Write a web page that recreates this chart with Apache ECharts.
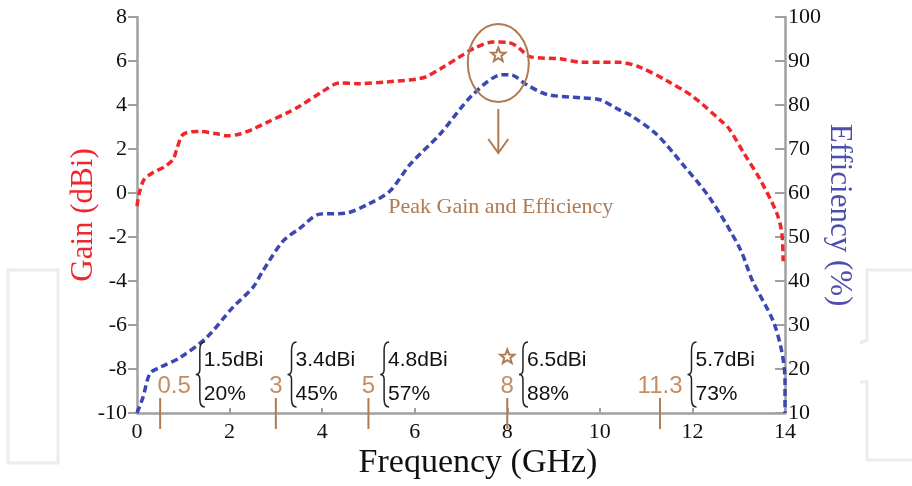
<!DOCTYPE html>
<html>
<head>
<meta charset="utf-8">
<style>html,body{margin:0;padding:0;background:#fff;}#c{width:912px;height:486px;}</style>
<script src="https://cdn.jsdelivr.net/npm/echarts@6/dist/echarts.min.js"></script>
</head>
<body>
<div id="c"></div>
<script>
// ---- data ----
const gainFreq = [0, 0.05, 0.15, 0.35, 0.6, 0.78, 0.86, 1.0, 1.36, 1.7, 1.94, 2.2, 2.5, 2.8, 3.3, 3.52, 4.0, 4.38, 4.8, 5.4, 6.05, 6.26, 6.6, 6.98, 7.3, 7.69, 8.0, 8.2, 8.49, 9.14, 9.63, 10.0, 10.43, 10.86, 11.45, 12.0, 12.66, 12.8, 13.1, 13.46, 13.82, 13.93, 13.96];
const gainVal  = [-0.6, 0.0, 0.6, 0.94, 1.2, 1.53, 2.0, 2.67, 2.8, 2.7, 2.6, 2.67, 2.9, 3.2, 3.7, 3.95, 4.6, 5.0, 4.97, 5.05, 5.18, 5.3, 5.7, 6.2, 6.6, 6.86, 6.85, 6.68, 6.2, 6.1, 5.94, 5.94, 5.94, 5.72, 5.1, 4.4, 3.2, 2.9, 1.85, 0.62, -0.9, -1.8, -3.1];
const effFreq  = [0, 0.13, 0.28, 0.5, 0.93, 1.5, 2.07, 2.5, 2.72, 3.15, 3.52, 3.95, 4.5, 5.0, 5.46, 5.9, 6.54, 7.26, 7.9, 8.1, 8.42, 8.86, 9.63, 10.0, 10.4, 10.7, 11.23, 11.79, 12.38, 13.02, 13.3, 13.74, 13.93, 14.0, 14.0];
const effVal   = [10, 13.6, 19, 20.4, 22.6, 27.1, 34, 38.5, 42.3, 49, 52, 55.2, 55.4, 57.5, 60.4, 66.5, 73.3, 82.4, 86.9, 86.8, 84.6, 82.4, 81.6, 81.2, 79, 77.4, 73.3, 66.5, 58.8, 47.5, 40, 31, 24, 17.4, 10];

const markFreq  = [0.5, 3, 5, 8, 11.3];
const markLabel = ['0.5', '3', '5', '8', '11.3'];
const markGain  = ['1.5dBi', '3.4dBi', '4.8dBi', '6.5dBi', '5.7dBi'];
const markEff   = ['20%', '45%', '57%', '88%', '73%'];
const starIndex = 3;

const peakPoint = [8, 6.0];
const peakText = 'Peak Gain and Efficiency';

const xTicks = {min: 0, max: 14, interval: 2};
const gainTicks = {min: -10, max: 8, interval: 2};
const effTicks = {min: 10, max: 100, interval: 10};

// ---- styles ----
const RED = '#f0262b', BLUE = '#3a48b2', BROWN = '#b07a52', BROWN_L = '#c58d64';
const SERIF = '"Liberation Serif", "DejaVu Serif", serif';
const SANS = '"Liberation Sans", Arial, sans-serif';

const mctx = document.createElement('canvas').getContext('2d');
function textW(t, font) { mctx.font = font; return mctx.measureText(t).width; }

function starPoints(cx, cy, R, r) {
  const pts = [];
  for (let k = 0; k < 10; k++) {
    const a = -Math.PI / 2 + k * Math.PI / 5;
    const rr = k % 2 === 0 ? R : r;
    pts.push([cx + rr * Math.cos(a), cy + rr * Math.sin(a)]);
  }
  return pts;
}

const chart = echarts.init(document.getElementById('c'), null, {renderer: 'canvas'});

const axisLineStyle = {color: '#a0a0a0', width: 2.5};
const tickLabel = {color: '#111', fontFamily: SERIF, fontSize: 22};

chart.setOption({
  animation: false,
  backgroundColor: '#fff',
  grid: {left: 137, right: 127, top: 17, bottom: 73},
  xAxis: {
    type: 'value', min: xTicks.min, max: xTicks.max, interval: xTicks.interval,
    axisLine: {onZero: false, lineStyle: axisLineStyle},
    axisTick: {inside: true, length: 5, lineStyle: {color: '#a0a0a0', width: 2}},
    splitLine: {show: false},
    axisLabel: Object.assign({margin: 8}, tickLabel),
    name: 'Frequency (GHz)', nameLocation: 'middle', nameGap: 33, nameMoveOverlap: false,
    nameTextStyle: {color: '#111', fontFamily: SERIF, fontSize: 34, padding: [0, 0, 0, 34]}
  },
  yAxis: [{
    type: 'value', min: gainTicks.min, max: gainTicks.max, interval: gainTicks.interval,
    axisLine: {show: true, onZero: false, lineStyle: axisLineStyle},
    axisTick: {show: true, inside: false, length: 9, lineStyle: {color: '#a0a0a0', width: 2}},
    splitLine: {show: false},
    axisLabel: Object.assign({margin: 10}, tickLabel),
    name: 'Gain (dBi)', nameLocation: 'middle', nameGap: 38, nameRotate: 90, nameMoveOverlap: false,
    nameTextStyle: {color: RED, fontFamily: SERIF, fontSize: 31}
  }, {
    type: 'value', position: 'right', min: effTicks.min, max: effTicks.max, interval: effTicks.interval,
    axisLine: {show: true, onZero: false, lineStyle: axisLineStyle},
    axisTick: {show: true, inside: true, length: 10, lineStyle: {color: '#a0a0a0', width: 2}},
    splitLine: {show: false},
    axisLabel: Object.assign({margin: 3}, tickLabel),
    name: 'Efficiency (%)', nameLocation: 'middle', nameGap: 39, nameRotate: -90, nameMoveOverlap: false,
    nameTextStyle: {color: '#4d4fb0', fontFamily: SERIF, fontSize: 31}
  }],
  graphic: [
    {type: 'rect', shape: {x: 8, y: 270, width: 50, height: 193}, style: {fill: 'none', stroke: '#ececec', lineWidth: 3}, silent: true, z: -1},
    {type: 'polyline', shape: {points: [[912, 270], [867, 270], [867, 340], [860, 343]]}, style: {fill: 'none', stroke: '#ececec', lineWidth: 3}, silent: true, z: -1},
    {type: 'polyline', shape: {points: [[860, 382], [867, 382], [867, 460], [912, 460]]}, style: {fill: 'none', stroke: '#ececec', lineWidth: 3}, silent: true, z: -1}
  ],
  series: [{
    name: 'Gain', type: 'line', yAxisIndex: 0, showSymbol: false, smooth: 0.3,
    data: gainFreq.map((f, i) => [f, gainVal[i]]),
    lineStyle: {color: RED, width: 3.5, type: [7, 4]}
  }, {
    name: 'Efficiency', type: 'line', yAxisIndex: 1, showSymbol: false, smooth: 0.3,
    data: effFreq.map((f, i) => [f, effVal[i]]),
    lineStyle: {color: BLUE, width: 3.5, type: [7, 4]}
  }, {
    name: 'marks', type: 'custom', yAxisIndex: 0, clip: false, z: 5,
    data: markFreq.map((f, i) => [f, i]),
    renderItem: function (params, api) {
      const i = api.value(1);
      const p = api.coord([api.value(0), gainTicks.min]);
      const bx = p[0], by = p[1];
      const lblFont = '24px ' + SANS;
      const lblCx = bx + (i === 0 ? 14 : 0);
      const w = textW(markLabel[i], lblFont);
      const x = lblCx + w / 2 + 9;
      const top = by - 71, bot = by - 6, mid = (top + bot) / 2;
      const d = `M${x + 5},${top} Q${x},${top} ${x},${top + 8} L${x},${mid - 5} Q${x},${mid} ${x - 4},${mid} Q${x},${mid} ${x},${mid + 5} L${x},${bot - 8} Q${x},${bot} ${x + 5},${bot}`;
      const children = [
        {type: 'line', shape: {x1: bx, y1: by - 15, x2: bx, y2: by + 16}, style: {stroke: BROWN, lineWidth: 2}},
        {type: 'text', x: lblCx, y: by - 27, style: {text: markLabel[i], font: lblFont, fill: BROWN_L, align: 'center', verticalAlign: 'middle'}},
        {type: 'path', shape: {pathData: d}, style: {fill: 'none', stroke: '#222', lineWidth: 1.5}},
        {type: 'text', x: x + 4, y: by - 53, style: {text: markGain[i], font: '21px ' + SANS, fill: '#111', align: 'left', verticalAlign: 'middle'}},
        {type: 'text', x: x + 4, y: by - 19, style: {text: markEff[i], font: '21px ' + SANS, fill: '#111', align: 'left', verticalAlign: 'middle'}}
      ];
      if (i === starIndex) {
        children.push({type: 'polygon', shape: {points: starPoints(lblCx, by - 56, 7.5, 3.2)}, style: {fill: 'none', stroke: BROWN, lineWidth: 2}});
      }
      return {type: 'group', children: children};
    }
  }, {
    name: 'peak', type: 'custom', yAxisIndex: 0, clip: false, z: 6,
    data: [peakPoint],
    renderItem: function (params, api) {
      const p = api.coord([api.value(0), api.value(1)]);
      const cx = p[0] - 9, cy = p[1] + 2;
      return {type: 'group', children: [
        {type: 'ellipse', shape: {cx: cx, cy: cy, rx: 30.5, ry: 39}, style: {fill: 'none', stroke: BROWN, lineWidth: 2}},
        {type: 'polygon', shape: {points: starPoints(cx, cy - 8, 7.5, 3.2)}, style: {fill: 'none', stroke: BROWN, lineWidth: 2}},
        {type: 'line', shape: {x1: cx, y1: cy + 46, x2: cx, y2: cy + 90}, style: {stroke: BROWN, lineWidth: 2}},
        {type: 'polyline', shape: {points: [[cx - 10, cy + 76], [cx, cy + 90], [cx + 10, cy + 76]]}, style: {fill: 'none', stroke: BROWN, lineWidth: 2}},
        {type: 'text', x: cx - 110, y: cy + 144, style: {text: peakText, font: '22px ' + SERIF, fill: BROWN, align: 'left', verticalAlign: 'middle'}}
      ]};
    }
  }]
});
</script>
</body>
</html>
